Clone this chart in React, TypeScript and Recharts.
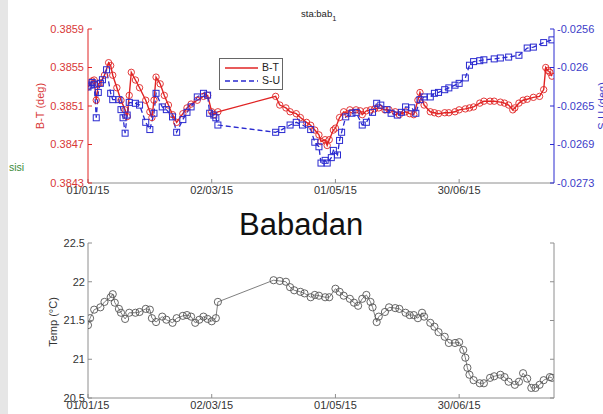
import React from 'react';
import { LineChart, Line, XAxis, YAxis, ReferenceLine, Legend } from 'recharts';

const FONT = '"Liberation Sans", Arial, Helvetica, sans-serif';
const RED = '#e02424';
const BLUE = '#2a2ad0';
const RED_TEXT = '#d83838';
const BLUE_TEXT = '#3c3cc8';
const BOX = '#8e8e8e';
const GREY_TEXT = '#333333';
const EVENT = '#7f9b8d';

// Days counted from 1 January 2015
const btDays = [0, 2, 3, 4, 5, 6, 8, 10, 11, 12, 14, 16, 18, 19, 20, 21, 23, 25, 28, 30, 31, 32, 33, 35, 37, 39, 41, 43, 46, 48, 50, 53, 56, 58, 60, 61, 63, 91, 93, 96, 98, 101, 103, 106, 108, 110, 112, 113, 115, 116, 117, 119, 120, 122, 124, 126, 127, 130, 132, 133, 135, 137, 139, 141, 144, 146, 149, 151, 154, 156, 158, 160, 161, 163, 166, 168, 170, 173, 175, 178, 180, 183, 185, 187, 190, 192, 195, 197, 200, 202, 204, 206, 207, 209, 211, 213, 216, 219, 221, 222, 223, 224, 225];
const btValues = [0.38530, 0.38536, 0.38537, 0.38516, 0.38533, 0.38534, 0.38542, 0.38555, 0.38552, 0.38542, 0.38529, 0.38516, 0.38506, 0.38499, 0.38521, 0.38545, 0.38537, 0.38529, 0.38516, 0.38504, 0.38498, 0.38516, 0.38540, 0.38533, 0.38521, 0.38511, 0.38501, 0.38493, 0.38502, 0.38508, 0.38512, 0.38516, 0.38520, 0.38521, 0.38504, 0.38501, 0.38504, 0.38520, 0.38511, 0.38508, 0.38504, 0.38502, 0.38498, 0.38493, 0.38490, 0.38485, 0.38480, 0.38473, 0.38475, 0.38469, 0.38475, 0.38485, 0.38487, 0.38498, 0.38504, 0.38502, 0.38506, 0.38506, 0.38505, 0.38501, 0.38505, 0.38506, 0.38507, 0.38508, 0.38506, 0.38506, 0.38504, 0.38501, 0.38504, 0.38502, 0.38501, 0.38516, 0.38524, 0.38511, 0.38504, 0.38503, 0.38502, 0.38503, 0.38503, 0.38504, 0.38506, 0.38507, 0.38508, 0.38509, 0.38513, 0.38515, 0.38515, 0.38515, 0.38514, 0.38513, 0.38511, 0.38506, 0.38508, 0.38513, 0.38516, 0.38517, 0.38519, 0.38520, 0.38527, 0.38550, 0.38547, 0.38545, 0.38541];

const suDays = [0, 1, 2, 3, 4, 5, 6, 7, 9, 11, 12, 15, 16, 17, 18, 19, 20, 23, 25, 28, 30, 32, 33, 36, 38, 41, 43, 46, 48, 50, 53, 56, 58, 59, 61, 62, 63, 91, 94, 98, 101, 104, 108, 110, 112, 113, 115, 116, 118, 119, 121, 122, 123, 125, 128, 130, 133, 135, 138, 140, 142, 145, 147, 150, 152, 154, 157, 159, 161, 163, 166, 168, 170, 173, 175, 178, 180, 183, 185, 187, 190, 192, 197, 200, 204, 209, 213, 216, 221, 225];
const suValues = [-0.02624, -0.02622, -0.02619, -0.02621, -0.02658, -0.02630, -0.02620, -0.02616, -0.02605, -0.02631, -0.02638, -0.02638, -0.02649, -0.02658, -0.02675, -0.02655, -0.02641, -0.02642, -0.02644, -0.02663, -0.02671, -0.02653, -0.02631, -0.02646, -0.02649, -0.02657, -0.02674, -0.02660, -0.02652, -0.02646, -0.02635, -0.02631, -0.02633, -0.02653, -0.02655, -0.02658, -0.02666, -0.02674, -0.02671, -0.02666, -0.02663, -0.02666, -0.02671, -0.02685, -0.02690, -0.02708, -0.02705, -0.02708, -0.02702, -0.02694, -0.02699, -0.02683, -0.02674, -0.02657, -0.02653, -0.02652, -0.02666, -0.02663, -0.02652, -0.02642, -0.02644, -0.02649, -0.02653, -0.02655, -0.02652, -0.02646, -0.02647, -0.02653, -0.02638, -0.02635, -0.02635, -0.02631, -0.02630, -0.02627, -0.02625, -0.02622, -0.02620, -0.02614, -0.02600, -0.02596, -0.02595, -0.02594, -0.02593, -0.02592, -0.02591, -0.02589, -0.02581, -0.02580, -0.02575, -0.02572];

const tempDays = [0, 1, 3, 6, 8, 11, 12, 13, 15, 16, 18, 20, 23, 25, 28, 30, 31, 33, 36, 38, 41, 43, 46, 48, 50, 52, 54, 56, 58, 60, 62, 63, 90, 93, 96, 98, 100, 103, 105, 108, 110, 112, 115, 117, 120, 122, 124, 127, 129, 131, 133, 135, 137, 138, 140, 141, 144, 146, 149, 151, 154, 156, 158, 160, 162, 163, 166, 168, 170, 173, 175, 178, 180, 182, 183, 184, 185, 187, 190, 192, 195, 197, 200, 202, 204, 207, 209, 211, 213, 215, 217, 219, 221, 224, 225];
const tempValues = [21.44, 21.53, 21.64, 21.67, 21.74, 21.80, 21.84, 21.73, 21.65, 21.60, 21.52, 21.60, 21.60, 21.61, 21.65, 21.64, 21.53, 21.48, 21.55, 21.51, 21.47, 21.53, 21.56, 21.57, 21.55, 21.47, 21.51, 21.55, 21.52, 21.49, 21.53, 21.74, 22.02, 22.01, 22.00, 21.93, 21.89, 21.87, 21.85, 21.80, 21.83, 21.82, 21.80, 21.80, 21.91, 21.87, 21.82, 21.78, 21.73, 21.69, 21.78, 21.83, 21.74, 21.67, 21.48, 21.55, 21.61, 21.67, 21.66, 21.65, 21.60, 21.57, 21.57, 21.53, 21.60, 21.55, 21.47, 21.42, 21.35, 21.29, 21.21, 21.21, 21.22, 21.12, 21.02, 20.89, 20.80, 20.73, 20.69, 20.69, 20.76, 20.78, 20.80, 20.77, 20.71, 20.67, 20.71, 20.82, 20.75, 20.63, 20.63, 20.67, 20.73, 20.77, 20.76];

const dateTicks = ['2015-01-01', '2015-03-02', '2015-05-01', '2015-06-30'];
const dateTickLabels = ['01/01/15', '02/03/15', '01/05/15', '30/06/15'];
const btTicks = [0.3843, 0.3847, 0.3851, 0.3855, 0.3859];
const suTicks = [-0.0273, -0.026875, -0.02645, -0.026025, -0.0256];
const suTickLabels = ['-0.0273', '-0.0269', '-0.0265', '-0.026', '-0.0256'];
const tempTicks = [20.5, 21, 21.5, 22, 22.5];
const tempTickLabels = ['20.5', '21', '21.5', '22', '22.5'];
const eventDate = '2015-04-27';
const lastDay = 226;

const dayOf = (iso: string) => (Date.parse(iso) - Date.parse('2015-01-01')) / 86400000;
const xTicks = dateTicks.map(dayOf);
const eventDay = dayOf(eventDate);

const btData = btDays.map((day, i) => ({ day, bt: btValues[i] }));
const suData = suDays.map((day, i) => ({ day, su: suValues[i] }));
const tempData = tempDays.map((day, i) => ({ day, temp: tempValues[i] }));

const fmtDate = (v: number) => {
  const i = xTicks.indexOf(v);
  return i >= 0 ? dateTickLabels[i] : '';
};
const fmtSu = (v: number) => {
  const i = suTicks.indexOf(v);
  return i >= 0 ? suTickLabels[i] : '';
};
const fmtTemp = (v: number) => {
  const i = tempTicks.indexOf(v);
  return i >= 0 ? tempTickLabels[i] : '';
};
const blank = () => '';

const tickFont = (fill: string) => ({ fill, fontSize: 11, fontFamily: FONT });

const SquareDot = (props: any) => {
  const { cx, cy, index } = props;
  if (cx == null || cy == null) return <g key={`sq-${index}`} />;
  return (
    <rect key={`sq-${index}`} x={cx - 3} y={cy - 3} width={6} height={6}
      fill="none" stroke={BLUE} strokeWidth={1} />
  );
};

const legendStyle: Record<string, { color: string; dash?: string }> = {
  'B-T': { color: RED },
  'S-U': { color: BLUE, dash: '5 3' },
};

const LegendBox = (props: any) => {
  const items = (props.payload || []) as any[];
  return (
    <div style={{
      border: '1px solid #666', background: '#fff', width: 64, height: 32,
      boxSizing: 'border-box', padding: '2px 0 0 0', fontFamily: FONT, fontSize: 10.5, color: '#222',
    }}>
      {items.map((it) => {
        const st = legendStyle[it.value] || { color: it.color };
        return (
          <div key={it.value} style={{ display: 'flex', alignItems: 'center', height: 13 }}>
            <svg width={41} height={10} style={{ display: 'block' }}>
              <line x1={5} y1={5} x2={38} y2={5} stroke={st.color} strokeWidth={1.3} strokeDasharray={st.dash} />
            </svg>
            <span style={{ marginLeft: 1, lineHeight: '13px' }}>{it.value}</span>
          </div>
        );
      })}
    </div>
  );
};

export default function App() {
  return (
    <div style={{ position: 'absolute', left: 0, top: 0, width: 603, height: 414, background: '#fff', overflow: 'hidden' }}>
      <div style={{ position: 'absolute', left: 0, top: 0, width: 8, height: 414, background: '#e6e6e6' }} />

      {/* Upper panel: B-T on the left axis, S-U on the right axis */}
      <div style={{ position: 'absolute', left: 0, top: 0 }}>
        <LineChart width={603} height={200} margin={{ top: 29, right: 0, bottom: 0, left: 28 }}>
          <XAxis dataKey="day" type="number" domain={[0, lastDay]} ticks={xTicks} interval={0}
            tickFormatter={fmtDate} tickSize={-4} tickMargin={7} height={17}
            stroke={BOX} tick={tickFont(GREY_TEXT)} allowDataOverflow />
          <XAxis xAxisId="top" orientation="top" dataKey="day" type="number" domain={[0, lastDay]}
            ticks={xTicks} interval={0} tickFormatter={blank} tickSize={-4} height={0}
            stroke={BOX} allowDataOverflow />
          <YAxis yAxisId="left" type="number" domain={[0.3843, 0.3859]} ticks={btTicks} interval={0}
            tickFormatter={(v: number) => v.toFixed(4)} width={60} tickSize={-4} tickMargin={8}
            stroke={RED} tick={tickFont(RED_TEXT)} allowDataOverflow />
          <YAxis yAxisId="right" orientation="right" type="number" domain={[-0.0273, -0.0256]} ticks={suTicks}
            interval={0} tickFormatter={fmtSu} width={49} tickSize={-4} tickMargin={7}
            stroke={BLUE} tick={tickFont(BLUE_TEXT)} allowDataOverflow />
          <Legend layout="vertical" align="center" verticalAlign="middle" content={<LegendBox />}
            wrapperStyle={{ left: 219, top: 58, width: 66, height: 34 }} />
          <Line name="B-T" data={btData} dataKey="bt" yAxisId="left" type="linear" stroke={RED} strokeWidth={1.4}
            dot={{ r: 3.2, stroke: RED, fill: 'none', strokeWidth: 0.9 }} isAnimationActive={false} />
          <Line name="S-U" data={suData} dataKey="su" yAxisId="right" type="linear" stroke={BLUE} strokeWidth={1.3}
            strokeDasharray="5 3" dot={SquareDot} isAnimationActive={false} />
        </LineChart>
      </div>

      {/* Lower panel: temperature */}
      <div style={{ position: 'absolute', left: 0, top: 226 }}>
        <LineChart width={603} height={188} margin={{ top: 17, right: 0, bottom: 0, left: 28 }}>
          <XAxis dataKey="day" type="number" domain={[0, lastDay]} ticks={xTicks} interval={0}
            tickFormatter={fmtDate} tickSize={-4} tickMargin={7} height={16}
            stroke={BOX} tick={tickFont(GREY_TEXT)} allowDataOverflow />
          <XAxis xAxisId="top" orientation="top" dataKey="day" type="number" domain={[0, lastDay]}
            ticks={xTicks} interval={0} tickFormatter={blank} tickSize={-4} height={0}
            stroke={BOX} allowDataOverflow />
          <YAxis yAxisId="left" type="number" domain={[20.5, 22.5]} ticks={tempTicks} interval={0}
            tickFormatter={fmtTemp} width={60} tickSize={-4} tickMargin={7}
            stroke={BOX} tick={tickFont(GREY_TEXT)} allowDataOverflow />
          <YAxis yAxisId="right" orientation="right" type="number" domain={[20.5, 22.5]} ticks={tempTicks}
            interval={0} tickFormatter={blank} width={49} tickSize={-4} tickMargin={7}
            stroke={BOX} allowDataOverflow />
          <Line name="Temp" data={tempData} dataKey="temp" yAxisId="left" type="linear" stroke="#707070"
            strokeWidth={0.9} dot={{ r: 3.6, stroke: '#555', fill: 'none', strokeWidth: 0.9 }}
            isAnimationActive={false} />
        </LineChart>
      </div>

      {/* Titles and axis captions */}
      <svg width={603} height={414} style={{ position: 'absolute', left: 0, top: 0, pointerEvents: 'none' }}>
        <text x={301} y={17} fontFamily={FONT} fontSize={9.5} fill="#222">
          sta:bab<tspan dy={3.5} fontSize={7.5}>1</tspan>
        </text>
        <text transform="translate(44,106) rotate(-90)" textAnchor="middle" fontFamily={FONT} fontSize={11} fill={RED_TEXT}>B-T (deg)</text>
        <text transform="translate(606,106) rotate(-90)" textAnchor="middle" fontFamily={FONT} fontSize={11} fill={BLUE_TEXT}>S-U (deg)</text>
        <text transform="translate(57,322) rotate(-90)" textAnchor="middle" fontFamily={FONT} fontSize={11} fill={GREY_TEXT}>Temp (°C)</text>
        <text x={9} y={171} fontFamily={FONT} fontSize={10.5} fill="#3a8a3a">sisi</text>
        <text x={239} y={235} fontFamily={FONT} fontSize={31} fill="#111">Babadan</text>
      </svg>

      {/* Event marker spanning both panels */}
      <div style={{ position: 'absolute', left: 0, top: 0, pointerEvents: 'none' }}>
        <LineChart width={603} height={414} data={[{ day: 0 }, { day: lastDay }]}
          margin={{ top: 0, right: 49, bottom: 0, left: 88 }}>
          <XAxis dataKey="day" type="number" domain={[0, lastDay]} hide allowDataOverflow />
          <YAxis type="number" domain={[0, 1]} hide />
          <ReferenceLine x={eventDay} stroke={EVENT} strokeWidth={3.5} strokeDasharray="4 3.5" />
        </LineChart>
      </div>
    </div>
  );
}
